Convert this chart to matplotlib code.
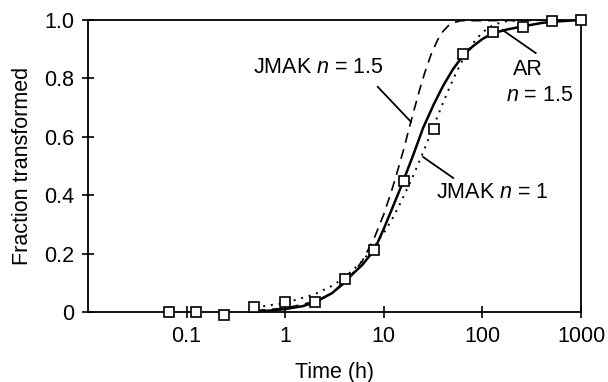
import matplotlib
matplotlib.use("Agg")
import matplotlib.pyplot as plt

plt.rcParams['font.family'] = ['Liberation Sans', 'DejaVu Sans']
plt.rcParams['mathtext.fontset'] = 'custom'
plt.rcParams['mathtext.rm'] = 'Liberation Sans'
plt.rcParams['mathtext.it'] = 'Liberation Sans:italic'

# measured data (squares)
exp_time = [0.066, 0.125, 0.24, 0.48, 1, 2, 4, 8, 16, 32, 64, 128, 256, 512, 1000]
exp_frac = [0.0, 0.0, -0.01, 0.017, 0.034, 0.034, 0.113, 0.212, 0.449, 0.627, 0.883, 0.96, 0.976, 0.997, 1.0]

# AR n = 1.5 (solid)
ar_time = [0.5, 0.7, 1, 1.5, 2, 3, 4, 5, 6, 8, 10, 12, 15, 20, 25, 32, 40, 50, 64, 80, 100, 128, 180, 256, 400, 512, 700, 1000]
ar_frac = [0.002, 0.005, 0.01, 0.02, 0.033, 0.065, 0.103, 0.135, 0.16, 0.212, 0.285, 0.35, 0.43, 0.54, 0.63, 0.71,
           0.775, 0.83, 0.88, 0.91, 0.935, 0.955, 0.968, 0.978, 0.99, 0.994, 0.997, 1.0]

# JMAK n = 1.5 (dashed)
j15_time = [0.5, 1, 2, 3, 4, 6, 8, 10, 12, 14, 16, 18, 20, 23, 26, 30, 35, 40, 45, 50, 60, 1000]
j15_frac = [0.005, 0.013, 0.036, 0.065, 0.098, 0.173, 0.253, 0.335, 0.415, 0.491, 0.56, 0.627, 0.685, 0.759, 0.819,
            0.88, 0.931, 0.962, 0.98, 0.99, 0.9975, 1.0]

# JMAK n = 1 (dotted)
j1_time = [0.5, 1, 2, 3, 4, 6, 8, 10, 12, 15, 20, 25, 30, 40, 50, 60, 80, 100, 130, 170, 250, 1000]
j1_frac = [0.016, 0.031, 0.061, 0.09, 0.118, 0.173, 0.224, 0.271, 0.315, 0.378, 0.469, 0.546, 0.612, 0.718, 0.794,
           0.85, 0.92, 0.958, 0.984, 0.995, 0.9996, 1.0]

fs = 15.5

fig = plt.figure(figsize=(6.08, 3.82), dpi=100)
ax = fig.add_axes([0.1447, 0.1832, 0.8109, 0.7644])

ax.plot(j15_time, j15_frac, color='black', lw=1.2, ls=(0, (6, 4)))
ax.plot(j1_time, j1_frac, color='black', lw=1.4, ls=(0, (1, 3)))
ax.plot(ar_time, ar_frac, color='black', lw=1.8)
ax.plot(exp_time, exp_frac, ls='none', marker='s', ms=7, mfc='white', mec='black', mew=1.2, clip_on=False, zorder=5)

ax.set_xscale('log')
ax.set_xlim(0.01, 1000)
ax.set_ylim(0, 1.0)
ax.set_xticks([0.1, 1, 10, 100, 1000])
ax.set_xticklabels(['0.1', '1', '10', '100', '1000'])
ax.minorticks_off()
ax.set_yticks([0, 0.2, 0.4, 0.6, 0.8, 1.0])
ax.set_yticklabels(['0', '0.2', '0.4', '0.6', '0.8', '1.0'])
ax.tick_params(direction='inout', length=8, width=1.2, labelsize=fs, color='black')
ax.tick_params(axis='x', pad=6)
ax.tick_params(axis='y', pad=6)
for s in ax.spines.values():
    s.set_linewidth(1.3)

ax.set_xlabel('Time (h)', fontsize=fs, labelpad=11)
ax.set_ylabel('Fraction transformed', fontsize=fs, labelpad=8)

# labels and pointer lines
ax.text(0.47, 0.836, r'JMAK $n$ = 1.5', fontsize=fs, ha='left', va='center')
ax.plot([8.69, 18.9], [0.771, 0.651], color='black', lw=1.3)
ax.text(288, 0.829, 'AR', fontsize=fs, ha='center', va='center')
ax.text(385, 0.743, r'$n$ = 1.5', fontsize=fs, ha='center', va='center')
ax.plot([160, 347], [0.966, 0.887], color='black', lw=1.3)
ax.text(34, 0.411, r'JMAK $n$ = 1', fontsize=fs, ha='left', va='center')
ax.plot([25, 50.6], [0.531, 0.459], color='black', lw=1.3)

fig.savefig('out.png', dpi=100)
